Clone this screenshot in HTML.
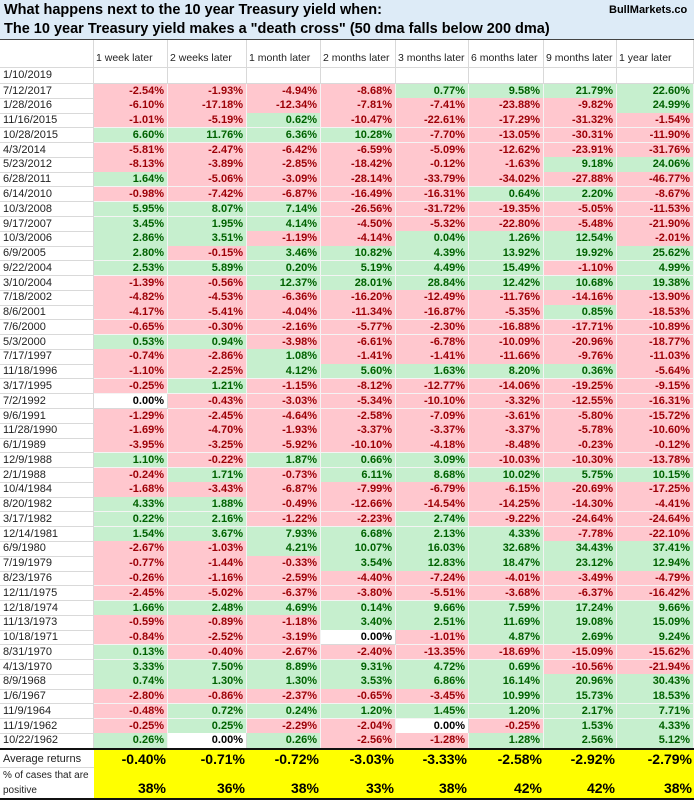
<!DOCTYPE html>
<html><head><meta charset="utf-8">
<style>
body{margin:0;width:694px;height:800px;overflow:hidden;background:#fff;font-family:"Liberation Sans",sans-serif;}
#wrap{position:relative;width:694px;height:800px;}
.c{position:absolute;box-sizing:border-box;font-size:11px;white-space:nowrap;overflow:hidden;}
.t{position:absolute;font-weight:bold;color:#000;white-space:nowrap;}
</style></head>
<body>
<div id="wrap">
  <div style="position:absolute;left:0;top:0;width:694px;height:40px;background:#ddebf7;border-bottom:1px solid #444;box-sizing:border-box;"></div>
  <div class="t" style="left:4px;top:2px;font-size:14.5px;">What happens next to the 10 year Treasury yield when:</div>
  <div class="t" style="left:4px;top:21px;font-size:14.5px;">The 10 year Treasury yield makes a "death cross" (50 dma falls below 200 dma)</div>
  <div class="t" style="left:609px;top:4px;font-size:11px;">BullMarkets.co</div>
</div>
<script>
const headers=["1 week later","2 weeks later","1 month later","2 months later","3 months later","6 months later","9 months later","1 year later"];
const dates=["7/12/2017","1/28/2016","11/16/2015","10/28/2015","4/3/2014","5/23/2012","6/28/2011","6/14/2010","10/3/2008","9/17/2007","10/3/2006","6/9/2005","9/22/2004","3/10/2004","7/18/2002","8/6/2001","7/6/2000","5/3/2000","7/17/1997","11/18/1996","3/17/1995","7/2/1992","9/6/1991","11/28/1990","6/1/1989","12/9/1988","2/1/1988","10/4/1984","8/20/1982","3/17/1982","12/14/1981","6/9/1980","7/19/1979","8/23/1976","12/11/1975","12/18/1974","11/13/1973","10/18/1971","8/31/1970","4/13/1970","8/9/1968","1/6/1967","11/9/1964","11/19/1962","10/22/1962"];
const values=[
[-2.54,-1.93,-4.94,-8.68,0.77,9.58,21.79,22.60],
[-6.10,-17.18,-12.34,-7.81,-7.41,-23.88,-9.82,24.99],
[-1.01,-5.19,0.62,-10.47,-22.61,-17.29,-31.32,-1.54],
[6.60,11.76,6.36,10.28,-7.70,-13.05,-30.31,-11.90],
[-5.81,-2.47,-6.42,-6.59,-5.09,-12.62,-23.91,-31.76],
[-8.13,-3.89,-2.85,-18.42,-0.12,-1.63,9.18,24.06],
[1.64,-5.06,-3.09,-28.14,-33.79,-34.02,-27.88,-46.77],
[-0.98,-7.42,-6.87,-16.49,-16.31,0.64,2.20,-8.67],
[5.95,8.07,7.14,-26.56,-31.72,-19.35,-5.05,-11.53],
[3.45,1.95,4.14,-4.50,-5.32,-22.80,-5.48,-21.90],
[2.86,3.51,-1.19,-4.14,0.04,1.26,12.54,-2.01],
[2.80,-0.15,3.46,10.82,4.39,13.92,19.92,25.62],
[2.53,5.89,0.20,5.19,4.49,15.49,-1.10,4.99],
[-1.39,-0.56,12.37,28.01,28.84,12.42,10.68,19.38],
[-4.82,-4.53,-6.36,-16.20,-12.49,-11.76,-14.16,-13.90],
[-4.17,-5.41,-4.04,-11.34,-16.87,-5.35,0.85,-18.53],
[-0.65,-0.30,-2.16,-5.77,-2.30,-16.88,-17.71,-10.89],
[0.53,0.94,-3.98,-6.61,-6.78,-10.09,-20.96,-18.77],
[-0.74,-2.86,1.08,-1.41,-1.41,-11.66,-9.76,-11.03],
[-1.10,-2.25,4.12,5.60,1.63,8.20,0.36,-5.64],
[-0.25,1.21,-1.15,-8.12,-12.77,-14.06,-19.25,-9.15],
[0.00,-0.43,-3.03,-5.34,-10.10,-3.32,-12.55,-16.31],
[-1.29,-2.45,-4.64,-2.58,-7.09,-3.61,-5.80,-15.72],
[-1.69,-4.70,-1.93,-3.37,-3.37,-3.37,-5.78,-10.60],
[-3.95,-3.25,-5.92,-10.10,-4.18,-8.48,-0.23,-0.12],
[1.10,-0.22,1.87,0.66,3.09,-10.03,-10.30,-13.78],
[-0.24,1.71,-0.73,6.11,8.68,10.02,5.75,10.15],
[-1.68,-3.43,-6.87,-7.99,-6.79,-6.15,-20.69,-17.25],
[4.33,1.88,-0.49,-12.66,-14.54,-14.25,-14.30,-4.41],
[0.22,2.16,-1.22,-2.23,2.74,-9.22,-24.64,-24.64],
[1.54,3.67,7.93,6.68,2.13,4.33,-7.78,-22.10],
[-2.67,-1.03,4.21,10.07,16.03,32.68,34.43,37.41],
[-0.77,-1.44,-0.33,3.54,12.83,18.47,23.12,12.94],
[-0.26,-1.16,-2.59,-4.40,-7.24,-4.01,-3.49,-4.79],
[-2.45,-5.02,-6.37,-3.80,-5.51,-3.68,-6.37,-16.42],
[1.66,2.48,4.69,0.14,9.66,7.59,17.24,9.66],
[-0.59,-0.89,-1.18,3.40,2.51,11.69,19.08,15.09],
[-0.84,-2.52,-3.19,0.00,-1.01,4.87,2.69,9.24],
[0.13,-0.40,-2.67,-2.40,-13.35,-18.69,-15.09,-15.62],
[3.33,7.50,8.89,9.31,4.72,0.69,-10.56,-21.94],
[0.74,1.30,1.30,3.53,6.86,16.14,20.96,30.43],
[-2.80,-0.86,-2.37,-0.65,-3.45,10.99,15.73,18.53],
[-0.48,0.72,0.24,1.20,1.45,1.20,2.17,7.71],
[-0.25,0.25,-2.29,-2.04,0.00,-0.25,1.53,4.33],
[0.26,0.00,0.26,-2.56,-1.28,1.28,2.56,5.12]];
const avgReturns=[-0.40,-0.71,-0.72,-3.03,-3.33,-2.58,-2.92,-2.79];
const pctPositive=[38,36,38,33,38,42,42,38];

const wrap=document.getElementById('wrap');
const colX=[0,94,168,247,321,396,469,544,617,694];
const rowH=14.77, row0=83.6;
function cell(x,y,w,h,text,style){
  const d=document.createElement('div');
  d.className='c';
  d.style.left=x+'px';d.style.top=y+'px';d.style.width=w+'px';d.style.height=h+'px';
  d.style.lineHeight=h+'px';
  Object.assign(d.style,style||{});
  d.textContent=text;
  wrap.appendChild(d);
  return d;
}
const hd=cell(0,40,94,28,'',{borderRight:'1px solid #d9d9d9',borderBottom:'1px solid #d9d9d9'});


headers.forEach((h,i)=>{
  const d=cell(colX[i+1],40,colX[i+2]-colX[i+1],28,h,{paddingLeft:'2px',paddingTop:'8px',lineHeight:'20px',fontSize:'10.5px',color:'#222',borderRight:'1px solid #d9d9d9',borderBottom:'1px solid #d9d9d9'});
  
  
});
const e=cell(0,68,94,rowH+1,'1/10/2019',{paddingLeft:'3px',color:'#222',borderRight:'1px solid #d9d9d9',borderBottom:'1px solid #d9d9d9'});


for(let i=0;i<8;i++){
  const d=cell(colX[i+1],68,colX[i+2]-colX[i+1],rowH+1,'',{borderRight:'1px solid #d9d9d9',borderBottom:'1px solid #d9d9d9'});
  
  
}
dates.forEach((dt,r)=>{
  const y=row0+r*rowH;
  const dl=cell(0,y,94,rowH+0.5,dt,{paddingLeft:'3px',color:'#222',borderRight:'1px solid #d9d9d9',borderBottom:'1px solid #d9d9d9'});
  
  
  values[r].forEach((v,c)=>{
    let bg='#fff',fg='#000';
    if(v>0){bg='#c6efce';fg='#006100';}else if(v<0){bg='#ffc7ce';fg='#9c0006';}
    const d=cell(colX[c+1],y,colX[c+2]-colX[c+1],rowH+0.5,v.toFixed(2)+'%',{background:bg,color:fg,fontWeight:'bold',textAlign:'right',paddingRight:'3px',borderBottom:'1px solid '+(v===0?'#d9d9d9':'#f4f4f4'),borderRight:'1px solid '+(v===0?'#d9d9d9':'#f4f4f4')});
    
    
  });
});
const sTop=row0+dates.length*rowH;
const line=cell(0,sTop,694,2,'',{background:'#111'});


const a=cell(0,sTop+2,94,18,'Average returns',{paddingLeft:'3px',color:'#222',borderBottom:'1px solid #d9d9d9'});


const p=cell(0,sTop+20,94,30,'',{color:'#222',paddingLeft:'3px',fontSize:'10px'});
p.innerHTML='<div style="line-height:15px">% of cases that are</div><div style="line-height:15px">positive</div>';


const yb=cell(94,sTop+2,600,48,'',{background:'#ffff00'});


avgReturns.forEach((v,c)=>{
  const d=cell(colX[c+1],sTop+2,colX[c+2]-colX[c+1],18,v.toFixed(2)+'%',{fontSize:'14px',fontWeight:'bold',textAlign:'right',paddingRight:'2px',color:'#000'});
  
  
});
pctPositive.forEach((v,c)=>{
  const d=cell(colX[c+1],sTop+32,colX[c+2]-colX[c+1],17,v+'%',{fontSize:'14px',fontWeight:'bold',textAlign:'right',paddingRight:'2px',color:'#000'});
  
  
});
const bl=cell(0,798,694,2,'',{background:'#111'});


</script>
</body></html>
